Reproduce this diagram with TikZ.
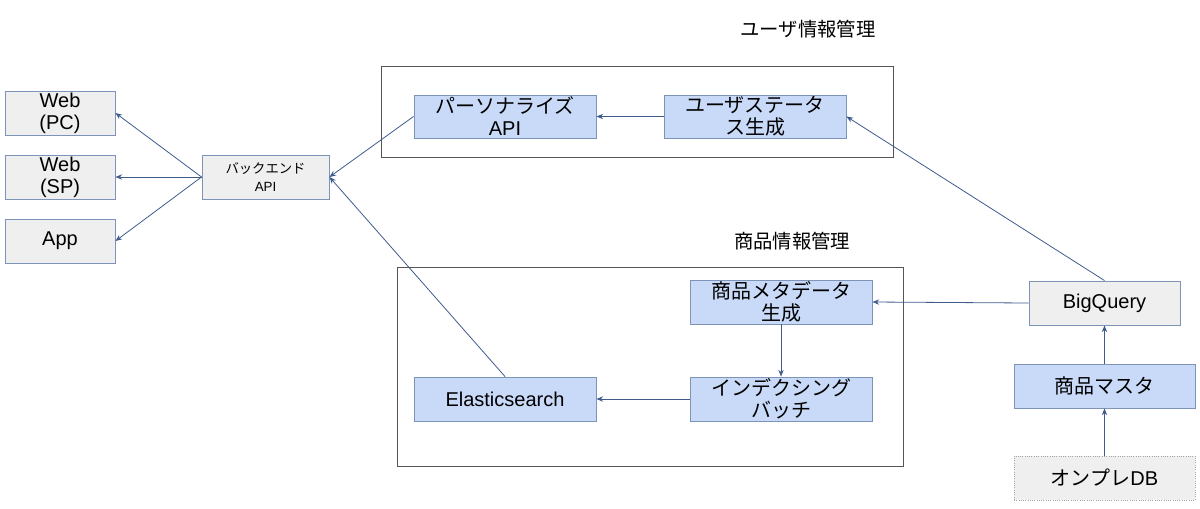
\documentclass[tikz,border=0pt]{standalone}
\usepackage{fontspec}
\setmainfont{Liberation Sans}
\newfontfamily\jp{Noto Sans CJK JP}
\usetikzlibrary{arrows.meta}
\definecolor{bluefill}{HTML}{C9DAF8}
\definecolor{grayfill}{HTML}{EFEFEF}
\definecolor{boxline}{HTML}{7D93B8}
\definecolor{arrowcol}{HTML}{3F5B8C}
\definecolor{frameline}{HTML}{555555}
\tikzset{
  base/.style={draw=boxline, line width=0.7pt, inner sep=0pt, align=center,
    font=\fontsize{15}{16.5}\selectfont},
  bluebox/.style={base, fill=bluefill},
  graybox/.style={base, fill=grayfill},
  frame/.style={draw=frameline, line width=0.7pt},
  conn/.style={draw=arrowcol, line width=0.6pt, -{Stealth[length=5pt,width=4pt]}},
  title/.style={font=\jp\fontsize{14.5}{16}\selectfont}
}
\begin{document}
\begin{tikzpicture}[x=0.75pt,y=-0.75pt]
\useasboundingbox (0,0) rectangle (1200,508);
% frames
\draw[frame] (381,66) rectangle (893,157);
\draw[frame] (397,267) rectangle (903,466);
\node[title] (t1) at (808,29) {ユーザ情報管理};
\node[title] (t2) at (792,241) {商品情報管理};
% left clients
\node[graybox, minimum width=110*0.75pt, minimum height=44*0.75pt] (pc) at (60,113) {Web\\(PC)};
\node[graybox, minimum width=110*0.75pt, minimum height=44*0.75pt] (sp) at (60,177) {Web\\(SP)};
\node[graybox, minimum width=110*0.75pt, minimum height=44*0.75pt] (app) at (60,241) {App};
\node[graybox, minimum width=127*0.75pt, minimum height=44*0.75pt, font=\fontsize{10}{13}\selectfont] (be) at (265.5,177) {{\jp バックエンド}\\API};
% user info
\node[bluebox, minimum width=182*0.75pt, minimum height=43*0.75pt] (pa) at (505,116.5) {{\jp パーソナライズ}\\API};
\node[bluebox, minimum width=182*0.75pt, minimum height=43*0.75pt, font=\jp\fontsize{15}{16.5}\selectfont] (us) at (755,116.5) {ユーザステータ\\ス生成};
% product info
\node[bluebox, minimum width=182*0.75pt, minimum height=44*0.75pt, font=\jp\fontsize{15}{16.5}\selectfont] (meta) at (781,302) {商品メタデータ\\生成};
\node[bluebox, minimum width=182*0.75pt, minimum height=44*0.75pt, font=\jp\fontsize{15}{16.5}\selectfont] (idx) at (781,399) {インデクシング\\バッチ};
\node[bluebox, minimum width=182*0.75pt, minimum height=44*0.75pt] (es) at (505,399) {Elasticsearch};
% right
\node[graybox, minimum width=151*0.75pt, minimum height=44*0.75pt] (bq) at (1104.5,303) {BigQuery};
\node[bluebox, minimum width=181*0.75pt, minimum height=44*0.75pt, font=\jp\fontsize{15}{16.5}\selectfont] (pm) at (1104.5,386) {商品マスタ};
\node[graybox, draw=gray!70, densely dotted, minimum width=181*0.75pt, minimum height=44*0.75pt] (db) at (1104.5,478) {{\jp オンプレ}DB};
% connectors
\draw[conn] (be.west) -- (pc.east);
\draw[conn] (be.west) -- (sp.east);
\draw[conn] (be.west) -- (app.east);
\draw[conn] (pa.west) -- (be.east);
\draw[conn] (es.north) -- (be.east);
\draw[conn] (us.west) -- (pa.east);
\draw[conn] (bq.north) -- (us.east);
\draw[conn] (bq.west) -- (meta.east);
\draw[conn] (meta.south) -- (idx.north);
\draw[conn] (idx.west) -- (es.east);
\draw[conn] (pm.north) -- (bq.south);
\draw[conn] (db.north) -- (pm.south);
\end{tikzpicture}
\end{document}
